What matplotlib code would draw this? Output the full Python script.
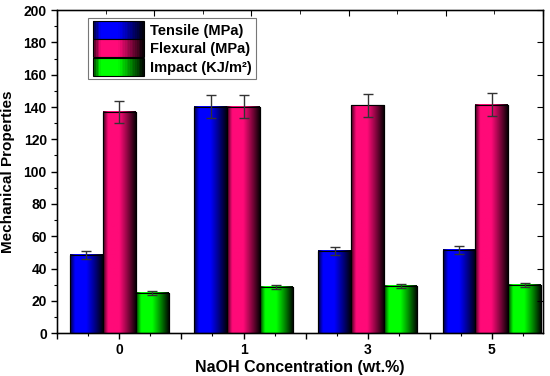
import numpy as np
import matplotlib
matplotlib.use("Agg")
import matplotlib.pyplot as plt
from matplotlib.colors import LinearSegmentedColormap, to_rgb
from matplotlib.legend_handler import HandlerBase
from matplotlib.patches import Rectangle
from matplotlib.ticker import MultipleLocator

plt.rcParams['font.family'] = ['Liberation Sans', 'DejaVu Sans']
plt.rcParams['font.weight'] = 'bold'

concentrations = ['0', '1', '3', '5']
series_names = ['Tensile (MPa)', 'Flexural (MPa)', 'Impact (KJ/m²)']
tensile = [48.3, 140.3, 50.8, 51.4]
tensile_err = [2.6, 7.0, 2.5, 2.5]
flexural = [137.2, 140.3, 141.0, 141.5]
flexural_err = [6.8, 7.0, 7.0, 7.0]
impact = [25.0, 28.7, 29.2, 29.8]
impact_err = [1.1, 1.3, 1.3, 1.3]
colors = ['#0000ff', '#ff0a78', '#00ff00']


def shade_cmap(c):
    r = np.array(to_rgb(c))
    stops = [(0.0, r * 0.25), (0.15, r), (0.5, r), (0.8, r * 0.45), (1.0, r * 0.05)]
    return LinearSegmentedColormap.from_list('s', [(p, tuple(v)) for p, v in stops])


class GradientHandler(HandlerBase):
    def __init__(self, color, gap):
        super().__init__()
        self.cmap = shade_cmap(color)
        self.gap = gap

    def create_artists(self, legend, orig_handle, xdescent, ydescent, width, height, fontsize, trans):
        arts = []
        n = 30
        y0, h = -ydescent - self.gap / 2, height + self.gap
        for i in range(n):
            r = Rectangle((-xdescent + width * i / n, y0), width / n + 0.3, h,
                          facecolor=self.cmap(i / (n - 1)), edgecolor='none', transform=trans)
            arts.append(r)
        arts.append(Rectangle((-xdescent, y0), width, h, facecolor='none',
                              edgecolor='black', lw=0.8, transform=trans))
        return arts


fig, ax = plt.subplots(figsize=(5.5, 3.76), dpi=100)
fig.subplots_adjust(left=0.104, right=0.987, top=0.973, bottom=0.114)

x = np.arange(len(concentrations))
w = 0.265
grad = np.linspace(0, 1, 64).reshape(1, -1)
handles = []
for k, (vals, errs) in enumerate([(tensile, tensile_err), (flexural, flexural_err), (impact, impact_err)]):
    bars = ax.bar(x + (k - 1) * w, vals, w, color=colors[k], edgecolor='black', lw=0.8, zorder=2)
    ax.errorbar(x + (k - 1) * w, vals, yerr=errs, fmt='none', ecolor='#333333',
                elinewidth=1.0, capsize=3.5, capthick=1.0, zorder=3)
    cmap = shade_cmap(colors[k])
    for b in bars:
        bx, by = b.get_x(), b.get_y()
        ax.imshow(grad, cmap=cmap, aspect='auto', extent=(bx, bx + b.get_width(), by, by + b.get_height()),
                  zorder=2.5, interpolation='bilinear')
        ax.add_patch(Rectangle((bx, by), b.get_width(), b.get_height(), facecolor='none',
                               edgecolor='black', lw=0.8, zorder=2.6))
    handles.append(bars)

ax.set_xlim(-0.5, 3.41)
ax.set_ylim(0, 200)
ax.set_xticks([-0.5, 0, 0.5, 1, 1.5, 2, 2.5, 3])
ax.set_xticklabels(['', '0', '', '1', '', '3', '', '5'])
ax.xaxis.set_minor_locator(MultipleLocator(0.25))
ax.yaxis.set_major_locator(MultipleLocator(20))
ax.yaxis.set_minor_locator(MultipleLocator(10))
ax.tick_params(axis='both', which='major', direction='out', length=4, width=1, labelsize=10)
ax.tick_params(axis='x', which='major', pad=3)
ax.tick_params(axis='both', which='minor', direction='out', length=2.5, width=0.8)
for s in ax.spines.values():
    s.set_linewidth(1.0)

ax.set_ylabel('Mechanical Properties', fontsize=11, fontweight='bold', labelpad=6)
ax.set_xlabel('NaOH Concentration (wt.%)', fontsize=11.5, fontweight='bold', labelpad=2)

# mirrored frame ticks
top = ax.twiny()
top.set_xlim(0, 1)
top.xaxis.set_major_locator(MultipleLocator(0.2))
top.xaxis.set_minor_locator(MultipleLocator(0.1))
top.tick_params(axis='x', which='major', direction='in', length=4, labeltop=False)
top.tick_params(axis='x', which='minor', direction='in', length=3)
right = ax.twinx()
right.set_ylim(0, 200)
right.yaxis.set_major_locator(MultipleLocator(20))
right.tick_params(axis='y', which='major', direction='in', length=4, labelright=False)

fs = 10.5
spacing = 0.2
leg = ax.legend(handles, series_names, loc='upper left', bbox_to_anchor=(0.064, 0.975),
                handler_map={h: GradientHandler(colors[i], spacing * fs) for i, h in enumerate(handles)},
                handlelength=3.5, handleheight=1.2, handletextpad=0.4, labelspacing=spacing,
                borderpad=0.3, borderaxespad=0, fancybox=False, edgecolor='#555555',
                prop={'weight': 'bold', 'size': fs})
leg.get_frame().set_linewidth(0.8)
leg.set_zorder(5)

fig.savefig('out.png', dpi=100)
